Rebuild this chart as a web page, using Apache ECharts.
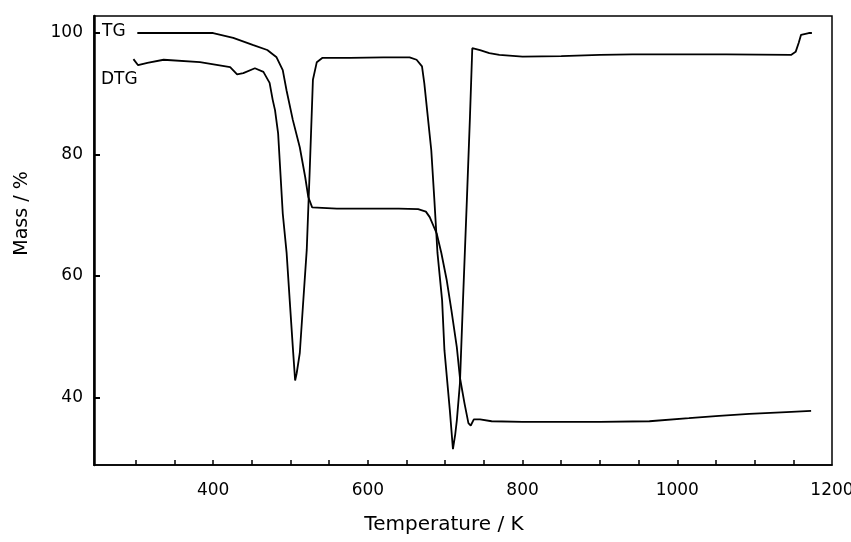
<!DOCTYPE html>
<html>
<head>
<meta charset="utf-8">
<script src="https://cdn.jsdelivr.net/npm/echarts@6/dist/echarts.min.js"></script>
<style>
  html, body { margin: 0; padding: 0; background: #fff; }
  #chart { width: 851px; height: 542px; }
</style>
</head>
<body>
<div id="chart"></div>
<script>
// TG curve (temperature K, mass %)
var tgTemp = [302, 400, 426, 452, 470, 482, 490, 495, 503, 512, 519, 523, 528, 560, 600, 640, 665, 675, 680, 689, 695, 702, 708, 715, 719, 725, 730, 733, 737, 745, 760, 800, 900, 964, 1015, 1054, 1093, 1141, 1173];
var tgMass = [100, 100, 99.2, 98.0, 97.2, 96.0, 93.9, 90.5, 85.7, 81.2, 76.3, 73.0, 71.3, 71.1, 71.1, 71.1, 71.0, 70.6, 69.7, 67.0, 63.8, 59.3, 54.4, 48.3, 43.3, 39.0, 35.8, 35.4, 36.4, 36.4, 36.1, 36.0, 36.0, 36.1, 36.6, 37.0, 37.3, 37.6, 37.8];

// DTG curve
var dtgTemp = [297, 303, 315, 336, 383, 422, 431, 439, 454, 465, 473, 477, 480, 484, 486, 490, 495, 499, 503, 506, 508, 512, 516, 521, 525, 529, 534, 541, 577, 620, 654, 663, 670, 673, 677, 682, 686, 690, 696, 699, 706, 710, 713, 715, 719, 723, 728, 732, 735, 745, 757, 770, 800, 850, 900, 942, 1063, 1147, 1153, 1157, 1160, 1170, 1174];
var dtgMass = [95.7, 94.7, 95.1, 95.6, 95.2, 94.4, 93.2, 93.4, 94.2, 93.6, 91.8, 89.0, 87.3, 83.5, 79.1, 70.3, 63.8, 56.0, 48.3, 42.8, 44.0, 47.3, 54.9, 64.3, 77.9, 92.3, 95.2, 95.9, 95.9, 96.0, 96.0, 95.6, 94.5, 91.7, 86.8, 80.7, 72.5, 63.8, 56.0, 47.8, 37.9, 31.5, 34.0, 36.2, 42.3, 56.0, 72.5, 86.2, 97.5, 97.2, 96.7, 96.4, 96.1, 96.2, 96.4, 96.5, 96.5, 96.4, 96.9, 98.4, 99.7, 100, 100];

var xLabels = [400, 600, 800, 1000, 1200];
var xTicks = [300, 350, 400, 450, 500, 550, 600, 650, 700, 750, 800, 850, 900, 950, 1000, 1050, 1100, 1150];
var yLabels = [40, 60, 80, 100];

function pairs(xs, ys) {
    var out = [];
    for (var i = 0; i < xs.length; i++) {
        out.push([xs[i], ys[i]]);
    }
    return out;
}

var font = 'DejaVu Sans';
var chart = echarts.init(document.getElementById('chart'));

var option = {
    animation: false,
    backgroundColor: '#fff',
    grid: {
        left: 94, right: 19, top: 16, bottom: 77,
        outerBoundsMode: 'none',
        show: true, borderColor: '#000', borderWidth: 1.5
    },
    xAxis: {
        type: 'value', min: 246, max: 1200,
        name: 'Temperature / K',
        nameLocation: 'middle', nameGap: 50,
        nameTextStyle: { color: '#000', fontFamily: font, fontSize: 20, padding: [0, 38, 0, 0] },
        axisLine: { lineStyle: { color: '#000', width: 1.5 } },
        axisTick: { inside: true, length: 5, customValues: xTicks, lineStyle: { color: '#000', width: 1.5 } },
        axisLabel: {
            customValues: xLabels, margin: 17, color: '#000', fontFamily: font, fontSize: 17,
            formatter: function (v) { return String(v); }
        },
        splitLine: { show: false }
    },
    yAxis: {
        type: 'value', min: 28.9, max: 102.8,
        name: 'Mass / %',
        nameLocation: 'middle', nameGap: 62,
        nameTextStyle: { color: '#000', fontFamily: font, fontSize: 19, padding: [0, 0, 0, 54] },
        axisLine: { lineStyle: { color: '#000', width: 2.5 } },
        axisTick: { inside: true, length: 6, customValues: yLabels, lineStyle: { color: '#000', width: 2 } },
        axisLabel: {
            customValues: yLabels, margin: 11, color: '#000', fontFamily: font, fontSize: 17,
            formatter: function (v) { return String(v); }
        },
        splitLine: { show: false }
    },
    graphic: [
        { type: 'text', left: 102, top: 23, style: { text: 'TG', fill: '#000', font: '17px ' + font } },
        { type: 'text', left: 101, top: 71, style: { text: 'DTG', fill: '#000', font: '17px ' + font } }
    ],
    series: [
        {
            name: 'TG', type: 'line', showSymbol: false,
            lineStyle: { color: '#000', width: 1.8 },
            data: pairs(tgTemp, tgMass)
        },
        {
            name: 'DTG', type: 'line', showSymbol: false,
            lineStyle: { color: '#000', width: 1.8 },
            data: pairs(dtgTemp, dtgMass)
        }
    ]
};

chart.setOption(option);
</script>
</body>
</html>
